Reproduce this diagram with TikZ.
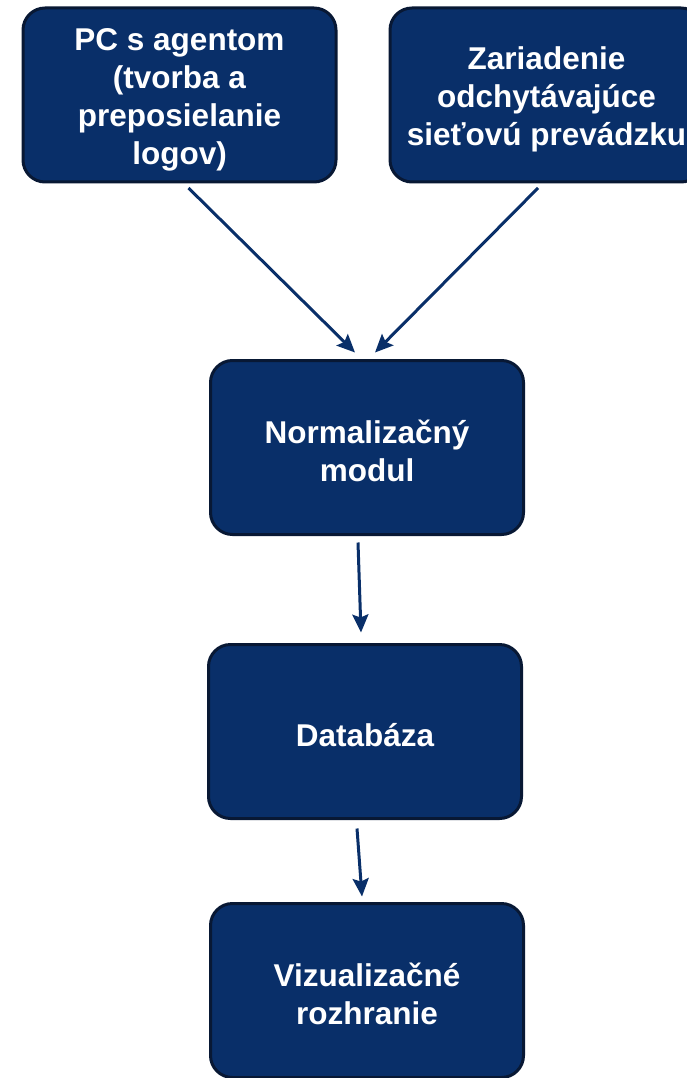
\documentclass[tikz,border=0pt]{standalone}
\usepackage{fontspec}
\setmainfont{Liberation Sans}
\usetikzlibrary{positioning,arrows.meta}
\definecolor{tmavomodra}{RGB}{9,47,105}
\definecolor{okraj}{RGB}{8,24,52}
\newcommand{\podpera}{\rule{0pt}{31pt}}

\begin{document}
\begin{tikzpicture}[
		x=1pt,y=1pt,
		blok/.style={draw=okraj, line width=3pt, fill=tmavomodra,
			rounded corners=22pt, minimum width=313pt, minimum height=174pt,
			outer sep=0pt, align=center, text=white,
			font=\bfseries\fontsize{31.5}{38}\selectfont},
		sipka/.style={draw=tmavomodra, line width=3pt,
			-{Stealth[length=18pt,width=16pt,inset=3pt]}},
	]
		\useasboundingbox (0,0) rectangle (687,-1078);

		\node[blok] (pc) at (179.5,-95) {\podpera PC s agentom\\(tvorba a\\preposielanie\\logov)};
		\node[blok, right=54pt of pc] (zar) {\podpera Zariadenie\\odchytávajúce\\sieťovú prevádzku};

		\node[blok] (norm) at (367,-447.5) {\podpera Normalizačný\\modul};
		\node[blok, below=110pt of norm, xshift=-2pt] (db) {\podpera Databáza};
		\node[blok, below=85pt of db, xshift=2pt] (viz) {\podpera Vizualizačné\\rozhranie};

		% toky dat
		\draw[sipka] ([xshift=9pt,yshift=-6pt]pc.south) -- ([xshift=-12pt,yshift=8pt]norm.north);
		\draw[sipka] ([xshift=-8.5pt,yshift=-6pt]zar.south) -- ([xshift=8pt,yshift=8pt]norm.north);
		\draw[sipka] ([xshift=-9pt,yshift=-8pt]norm.south) -- ([xshift=-4pt,yshift=12pt]db.north);
		\draw[sipka] ([xshift=-8pt,yshift=-10pt]db.south) -- ([xshift=-5pt,yshift=7pt]viz.north);
	\end{tikzpicture}
\end{document}
